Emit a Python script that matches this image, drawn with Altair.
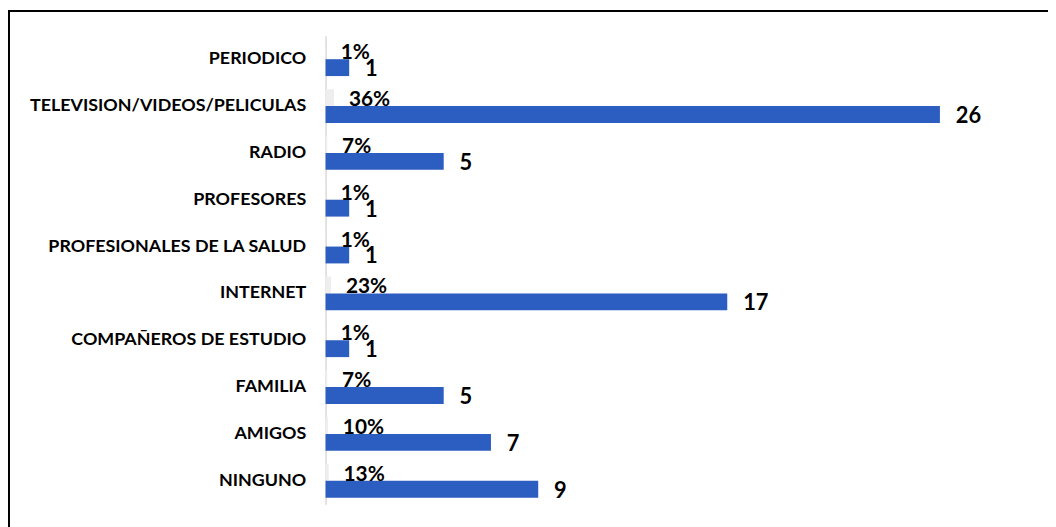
import altair as alt
import pandas as pd

categories = ["PERIODICO", "TELEVISION/VIDEOS/PELICULAS", "RADIO", "PROFESORES",
              "PROFESIONALES DE LA SALUD", "INTERNET", "COMPAÑEROS DE ESTUDIO",
              "FAMILIA", "AMIGOS", "NINGUNO"]
counts = [1, 26, 5, 1, 1, 17, 1, 5, 7, 9]
percents = [0.01, 0.36, 0.07, 0.01, 0.01, 0.23, 0.01, 0.07, 0.10, 0.13]
pct_labels = ["1%", "36%", "7%", "1%", "1%", "23%", "1%", "7%", "10%", "13%"]

rows = []
for c, n, p, pl in zip(categories, counts, percents, pct_labels):
    rows.append({"cat": c, "series": "a_pct", "value": p, "label": pl})
    rows.append({"cat": c, "series": "b_count", "value": n, "label": str(n)})
df = pd.DataFrame(rows)

FONT = "Lato"

y_enc = alt.Y("cat:N", sort=categories,
              scale=alt.Scale(paddingInner=0.28, paddingOuter=0.14),
              axis=alt.Axis(title=None, ticks=False, labelPadding=20, labelLimit=0,
                            labelFont=FONT, labelFontSize=18, labelFontWeight="bold",
                            labelColor="#000000", domainColor="#d9d9d9", domainWidth=1.5))
x_enc = alt.X("value:Q", scale=alt.Scale(domain=[0, 29.65], nice=False), axis=None)

base = alt.Chart(df)

bars = base.mark_bar(size=17).encode(
    y=y_enc,
    x=x_enc,
    yOffset=alt.YOffset("series:N", sort=["a_pct", "b_count"]),
    color=alt.Color("series:N",
                    scale=alt.Scale(domain=["a_pct", "b_count"], range=["#eeeeee", "#2C5DC0"]),
                    legend=None),
)

pct_text = base.transform_filter(alt.datum.series == "a_pct").mark_text(
    align="left", baseline="middle", dx=15, dy=-6, font=FONT, fontSize=21,
    fontWeight="bold", color="#000000"
).encode(y=alt.Y("cat:N", sort=categories), x="value:Q", text="label:N")

cnt_text = base.transform_filter(alt.datum.series == "b_count").mark_text(
    align="left", baseline="middle", dx=16, dy=10, font=FONT, fontSize=22,
    fontWeight="bold", color="#000000"
).encode(y=alt.Y("cat:N", sort=categories), x="value:Q", text="label:N")

frame_df = pd.DataFrame({"k": [0]})
left_line = alt.Chart(frame_df).mark_rule(color="#000000", strokeWidth=2).encode(
    x=alt.value(-319), y=alt.value(-26), y2=alt.value(500))
top_line = alt.Chart(frame_df).mark_rule(color="#000000", strokeWidth=2).encode(
    x=alt.value(-320), x2=alt.value(730), y=alt.value(-25))

chart = alt.layer(bars, pct_text, cnt_text, left_line, top_line).properties(
    width=706, height=472,
    autosize=alt.AutoSizeParams(type="none"),
    padding={"left": 320, "top": 26, "right": 22, "bottom": 21},
).configure(background="#ffffff", view=alt.ViewConfig(stroke=None))

chart.save("out.html", embed_options={"renderer": "svg", "actions": False})
